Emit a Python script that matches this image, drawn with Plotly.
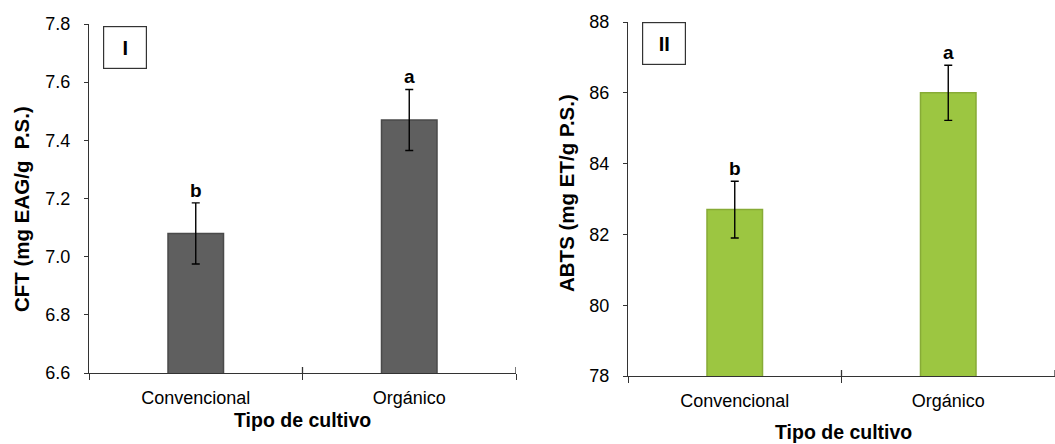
import plotly.graph_objects as go

# Data
categorias = ["Convencional", "Orgánico"]
cft_media = [7.08, 7.47]
cft_error = [0.105, 0.105]
cft_letras = ["b", "a"]
abts_media = [82.7, 86.0]
abts_error = [0.80, 0.78]
abts_letras = ["b", "a"]

W, H = 1055, 444
FONT = "Liberation Sans, Arial, sans-serif"
AXIS_COLOR = "#333333"


def px(x):
    return x / W


def py(y):
    return 1 - y / H


fig = go.Figure()

fig.add_trace(go.Bar(
    x=categorias, y=cft_media, width=0.26,
    marker=dict(color="#5f5f5f", line=dict(color="#4a4a4a", width=1.5)),
    error_y=dict(type="data", array=cft_error, color="#000000", thickness=1.4, width=4),
    xaxis="x", yaxis="y", showlegend=False,
))
fig.add_trace(go.Bar(
    x=categorias, y=abts_media, width=0.26,
    marker=dict(color="#9cc641", line=dict(color="#87ab36", width=1.5)),
    error_y=dict(type="data", array=abts_error, color="#000000", thickness=1.4, width=4),
    xaxis="x2", yaxis="y2", showlegend=False,
))

tickfont = dict(family=FONT, size=18, color="#000000")
xcommon = dict(
    type="category", range=[-0.5, 1.5], tickson="boundaries",
    ticks="outside", ticklen=6, tickwidth=1.3, tickcolor=AXIS_COLOR,
    showline=True, linecolor=AXIS_COLOR, linewidth=1.4,
    showgrid=False, zeroline=False, tickfont=tickfont, ticklabelstandoff=8,
    automargin=False,
)
ycommon = dict(
    ticks="outside", ticklen=4, tickwidth=1.3, tickcolor=AXIS_COLOR,
    showline=True, linecolor=AXIS_COLOR, linewidth=1.4,
    showgrid=False, zeroline=False, tickfont=tickfont, ticklabelstandoff=10,
    automargin=False,
)

fig.update_layout(
    width=W, height=H,
    margin=dict(l=0, r=0, t=0, b=0),
    paper_bgcolor="white", plot_bgcolor="white",
    bargap=0.7,
    xaxis=dict(domain=[px(89), px(516)], anchor="y", **xcommon),
    yaxis=dict(domain=[py(373), py(24)], anchor="x", range=[6.6, 7.8],
               dtick=0.2, tickformat=".1f", **ycommon),
    xaxis2=dict(domain=[px(628), 1.0], anchor="y2", **xcommon),
    yaxis2=dict(domain=[py(376), py(22)], anchor="x2", range=[78, 88],
                dtick=2, **ycommon),
)

# Upper halves of the category boundary ticks (ticks cross the x axis)
for xa, ya in (("x", "y"), ("x2", "y2")):
    for b in (0.5, 1.5):
        fig.add_shape(type="line", xref=xa, yref=f"{ya} domain",
                      x0=b, x1=b, ysizemode="pixel", yanchor=0, y0=0, y1=6,
                      line=dict(color=AXIS_COLOR, width=1.3))

# Significance letters above the error bars
for i, cat in enumerate(categorias):
    fig.add_annotation(x=cat, y=cft_media[i] + cft_error[i], xref="x", yref="y",
                       text=f"<b>{cft_letras[i]}</b>", showarrow=False,
                       xanchor="center", yanchor="bottom", yshift=0,
                       font=dict(family=FONT, size=19, color="#000000"))
    fig.add_annotation(x=cat, y=abts_media[i] + abts_error[i], xref="x2", yref="y2",
                       text=f"<b>{abts_letras[i]}</b>", showarrow=False,
                       xanchor="center", yanchor="bottom", yshift=0,
                       font=dict(family=FONT, size=19, color="#000000"))

xtitlefont = dict(family=FONT, size=19.5, color="#000000")
ytitlefont = dict(family=FONT, size=20.5, color="#000000")


def centred_text(text, cx, cy, font, angle=0):
    fig.add_annotation(x=px(cx), y=py(cy), xref="paper", yref="paper",
                       xanchor="center", yanchor="middle",
                       text=text, textangle=angle, showarrow=False, font=font)


# Axis titles
centred_text("<b>CFT (mg EAG/g  P.S.)</b>", 22, 209, ytitlefont, -90)
centred_text("<b>ABTS (mg ET/g P.S.)</b>", 566, 193, ytitlefont, -90)
centred_text("<b>Tipo de cultivo</b>", 302, 420, xtitlefont)
centred_text("<b>Tipo de cultivo</b>", 843, 432, xtitlefont)

# Panel labels in boxes
for label, cx, cy in (("I", 124.5, 47), ("II", 664, 44)):
    fig.add_annotation(x=px(cx), y=py(cy), xref="paper", yref="paper",
                       xanchor="center", yanchor="middle",
                       text=f"<b>{label}</b>", showarrow=False,
                       width=42, height=41, align="center", valign="middle",
                       bordercolor="#333333", borderwidth=1.2, borderpad=0,
                       bgcolor="white",
                       font=dict(family=FONT, size=20, color="#000000"))

fig.write_html("out.html")
